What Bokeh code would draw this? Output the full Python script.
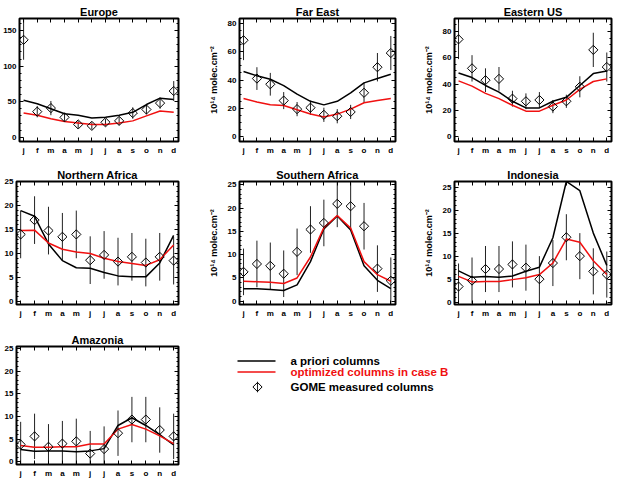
from bokeh.plotting import figure
from bokeh.layouts import column, row
from bokeh.models import LinearAxis, FixedTicker, Range1d
from bokeh.embed import file_html
from bokeh.resources import INLINE
from bokeh.core.properties import value

FONT = "Liberation Sans"
RED = "#f01010"

months = [1, 2, 3, 4, 5, 6, 7, 8, 9, 10, 11, 12]
month_labels = ["j", "f", "m", "a", "m", "j", "j", "a", "s", "o", "n", "d"]

# ---- data (10^14 molec.cm^-2) ----
europe_apriori = [52, 47, 40, 33, 31, 27, 28, 31, 35, 46, 55, 53]
europe_optim = [34, 31, 26, 22, 20, 18, 18, 20, 23, 30, 37, 35]
europe_gome = [137, 36, 41, 28, 18, 16, 21, 23, 34, 39, 48, 65]
europe_err = [28, 8, 10, 6, 5, 5, 5, 6, 8, 7, 8, 14]

fareast_apriori = [46, 43, 40.5, 36, 30, 25, 22.5, 25, 31, 38, 41, 44]
fareast_optim = [27, 24.5, 22.5, 22, 19, 16, 14, 16, 19.5, 24, 25.5, 27]
fareast_gome = [68, 41, 37, 25.5, 19.5, 20.5, 15.5, 14.5, 17.5, 31, 49, 59]
fareast_err = [14, 8, 8, 6, 5, 5, 5, 5, 5, 7, 10, 12]

eastus_apriori = [48.5, 45, 39, 34, 27, 22, 22, 27, 30, 39, 48, 50]
eastus_optim = [42.5, 38.5, 33, 29, 24, 19.5, 19.5, 24, 28, 36, 42, 44]
eastus_gome = [74, 52, 43, 44, 29, 27, 28, 23, 27, 38, 66, 53]
eastus_err = [15, 10, 9, 9, 6, 6, 6, 5, 5, 8, 13, 11]

nafrica_apriori = [19, 17.8, 12, 8.5, 7, 6.9, 6, 5.3, 5.1, 5.1, 8, 13.8]
nafrica_optim = [14.8, 14.9, 12.2, 10.9, 10.3, 10, 9, 8.3, 7.9, 7.5, 8.7, 11.8]
nafrica_gome = [14, 17, 14.8, 13.5, 14, 8.6, 9.7, 8.3, 9.3, 8.1, 9.3, 8.5]
nafrica_err = [5, 5, 5, 5, 5, 5, 5, 5, 5, 5, 5, 5]

safrica_apriori = [2.7, 2.7, 2.5, 2.3, 3.5, 8.5, 15.5, 18.3, 15.3, 7.6, 4.5, 2.7]
safrica_optim = [4.3, 4.2, 4.1, 3.8, 5, 9.5, 15.8, 18.4, 15.7, 8.5, 5.7, 4.3]
safrica_gome = [6.3, 8, 7.6, 5.9, 10.6, 15.4, 16.8, 20.9, 20.4, 16.1, 7, 4.4]
safrica_err = [5, 5, 5, 5, 5, 5, 5, 5, 5, 5, 5, 5]

indonesia_apriori = [6.8, 5.4, 5.6, 5.4, 5.7, 6.7, 7.6, 14, 26.2, 24.2, 15, 8]
indonesia_optim = [5.6, 4.4, 4.5, 4.5, 4.9, 5.3, 6, 8.5, 13.7, 13, 9, 6]
indonesia_gome = [3.4, 4.7, 7.2, 7.2, 8.2, 7.5, 5, 8.5, 14.1, 10, 6.7, 6]
indonesia_err = [5, 5, 5, 5, 5, 5, 5, 5, 5, 5, 5, 5]

amazonia_apriori = [2.7, 2.3, 2.4, 2.4, 2.2, 2.4, 2.9, 8, 9.7, 8, 6, 3.7]
amazonia_optim = [3.6, 3.2, 3.2, 3.3, 3.3, 3.9, 3.9, 7.2, 8.2, 7.2, 5.7, 4]
amazonia_gome = [3.8, 5.6, 3.3, 4, 4.5, 1.8, 2.8, 6.3, 9.3, 9.3, 7, 5.6]
amazonia_err = [5, 5, 5, 5, 5, 5, 5, 5, 5, 5, 5, 5]

legend_labels = ["a priori columns", "optimized columns in case B", "GOME measured columns"]
y_label = "10\u00b9\u2074 molec.cm\u207b\u00b2"


def style_axis(ax, size="8px"):
    ax.axis_line_color = None
    ax.major_tick_in = 4
    ax.major_tick_out = 0
    ax.minor_tick_in = 2
    ax.minor_tick_out = 0
    ax.major_tick_line_color = "black"
    ax.minor_tick_line_color = "black"
    ax.major_tick_line_width = 1
    ax.major_label_text_font = FONT
    ax.major_label_text_font_style = "bold"
    ax.major_label_text_font_size = size
    ax.major_label_text_color = "black"


def panel(title, apriori, optim, gome, err, yr, yticks, yminor, w, h, ml, mr, mt, mb, ylab=False):
    p = figure(width=w, height=h, output_backend="svg", toolbar_location=None,
               x_range=Range1d(0.7, 12.35), y_range=Range1d(*yr),
               x_axis_location=None, y_axis_location=None,
               min_border_left=ml, min_border_right=mr, min_border_top=mt, min_border_bottom=mb)
    p.grid.visible = False
    p.outline_line_color = "black"
    p.outline_line_width = 2
    p.background_fill_color = "white"
    p.border_fill_color = "white"
    p.title.text = title
    p.title.text_font = FONT
    p.title.text_font_size = "11px"
    p.title.text_font_style = "bold"
    p.title.text_color = "black"
    p.title.align = "center"
    p.title.standoff = 2
    p.title.offset = 0

    yt = FixedTicker(ticks=yticks, minor_ticks=yminor)
    xt = FixedTicker(ticks=months)
    left = LinearAxis(ticker=yt)
    style_axis(left)
    left.major_label_standoff = 3
    if ylab:
        left.axis_label = y_label
        left.axis_label_text_font = FONT
        left.axis_label_text_font_size = "9px"
        left.axis_label_text_font_style = "bold"
        left.axis_label_text_color = "black"
        left.axis_label_standoff = 6
    right = LinearAxis(ticker=yt)
    style_axis(right)
    right.major_label_standoff = 0
    right.major_label_overrides = {t: "" for t in yticks}
    bottom = LinearAxis(ticker=xt)
    style_axis(bottom)
    bottom.major_label_overrides = {m: l for m, l in zip(months, month_labels)}
    bottom.major_label_standoff = 4
    top = LinearAxis(ticker=xt)
    style_axis(top)
    top.major_label_standoff = 0
    top.major_label_overrides = {m: "" for m in months}
    p.add_layout(left, "left")
    p.add_layout(right, "right")
    p.add_layout(bottom, "below")
    p.add_layout(top, "above")

    lo = [g - e for g, e in zip(gome, err)]
    hi = [g + e for g, e in zip(gome, err)]
    p.segment(x0=months, y0=lo, x1=months, y1=hi, line_color="#222222", line_width=1)
    p.line(months, apriori, line_color="black", line_width=1.5)
    p.line(months, optim, line_color=RED, line_width=1.5)
    p.scatter(months, gome, marker="square", angle=0.785398, size=6.5,
              fill_color=None, line_color="black", line_width=1)
    return p


ticks50 = [0, 50, 100, 150]
minor50 = list(range(0, 170, 10))
ticks20 = [0, 20, 40, 60, 80]
minor20 = list(range(0, 90, 5))
ticks5 = [0, 5, 10, 15, 20, 25]
minor5 = list(range(0, 26, 1))

W1, W2, W3 = 205, 215, 206
H1, H2, H3 = 163, 163, 154

p1 = panel("Europe", europe_apriori, europe_optim, europe_gome, europe_err,
           (-6, 167), ticks50, minor50, W1, H1, 16, 27, 18, 22)
p2 = panel("Far East", fareast_apriori, fareast_optim, fareast_gome, fareast_err,
           (-3.3, 83.3), ticks20, minor20, W2, H1, 28, 25, 18, 22, True)
p3 = panel("Eastern US", eastus_apriori, eastus_optim, eastus_gome, eastus_err,
           (-3.5, 89.8), ticks20, minor20, W3, H1, 31, 15, 18, 22, True)
p4 = panel("Northern Africa", nafrica_apriori, nafrica_optim, nafrica_gome, nafrica_err,
           (-0.7, 25.1), ticks5, minor5, W1, H2, 16, 27, 18, 22)
p5 = panel("Southern Africa", safrica_apriori, safrica_optim, safrica_gome, safrica_err,
           (-0.7, 25.7), ticks5, minor5, W2, H2, 28, 25, 18, 22, True)
p6 = panel("Indonesia", indonesia_apriori, indonesia_optim, indonesia_gome, indonesia_err,
           (-0.5, 26.2), ticks5, minor5, W3, H2, 31, 15, 18, 22, True)
p7 = panel("Amazonia", amazonia_apriori, amazonia_optim, amazonia_gome, amazonia_err,
           (-0.6, 25.4), ticks5, minor5, W1, H3, 16, 27, 18, 15)

# legend panel (coordinates in pixels of this panel's frame)
LW, LH, LTOP = W2 + W3, H3, 20
lg = figure(width=LW, height=LH, output_backend="svg", toolbar_location=None,
            x_range=Range1d(0, LW), y_range=Range1d(0, LH - LTOP),
            x_axis_location=None, y_axis_location=None,
            min_border_left=0, min_border_right=0, min_border_bottom=0, min_border_top=LTOP)
lg.grid.visible = False
lg.outline_line_color = None
key_x0, key_x1, key_xc, text_x = 32, 70, 52, 85
row_y = [117.5, 105, 88]
lg.line([key_x0, key_x1], [row_y[0], row_y[0]], line_color="black", line_width=1.5)
lg.line([key_x0, key_x1], [row_y[1], row_y[1]], line_color=RED, line_width=1.5)
lg.segment(x0=[key_xc], y0=[row_y[2] - 6], x1=[key_xc], y1=[row_y[2] + 6], line_color="#222222", line_width=1)
lg.scatter([key_xc], [row_y[2]], marker="square", angle=0.785398, size=6.5,
           fill_color=None, line_color="black", line_width=1)
lg.text(x=[text_x] * 3, y=row_y, text=legend_labels,
        text_color=["black", RED, "black"], text_font=value(FONT),
        text_font_size="11.5px", text_font_style="bold", text_baseline="middle")

layout = column(row(p1, p2, p3), row(p4, p5, p6), row(p7, lg))

open("out.html", "w").write(file_html(layout, INLINE))
